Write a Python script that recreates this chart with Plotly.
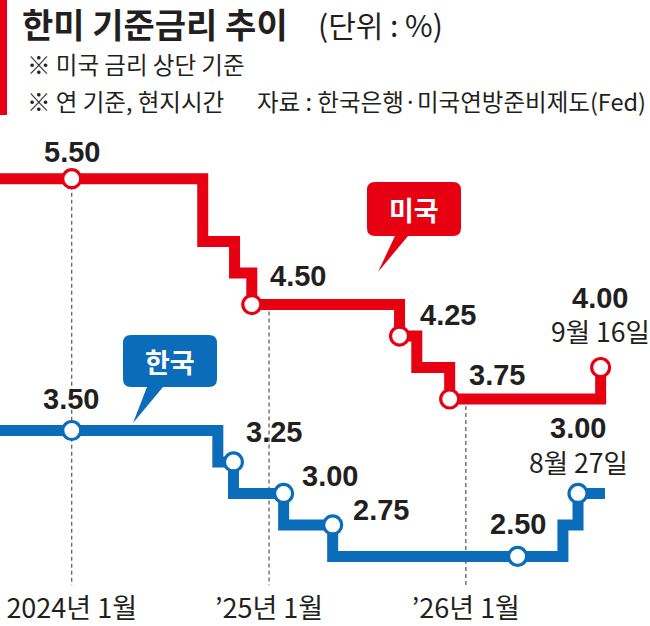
import plotly.graph_objects as go

# ---------------- data ----------------
us_step_dates = ["2023-07-01", "2024-08-31", "2024-10-29", "2024-11-30",
                 "2025-08-31", "2025-10-02", "2025-12-02", "2026-09-08"]
us_step_rates = [5.50, 5.00, 4.75, 4.50, 4.25, 4.00, 3.75, 4.00]

kr_step_dates = ["2023-07-01", "2024-09-28", "2024-10-27", "2025-01-28",
                 "2025-04-29", "2026-06-30", "2026-07-28", "2026-09-16"]
kr_step_rates = [3.50, 3.25, 3.00, 2.75, 2.50, 2.75, 3.00, 3.00]

us_dot_dates = ["2024-01-01", "2024-11-30", "2025-08-31", "2025-12-02", "2026-09-08"]
us_dot_rates = [5.50, 4.50, 4.25, 3.75, 4.00]
us_dot_labels = ["5.50", "4.50", "4.25", "3.75", "4.00"]

kr_dot_dates = ["2024-01-01", "2024-10-27", "2025-01-28", "2025-04-29", "2026-04-07", "2026-07-28"]
kr_dot_rates = [3.50, 3.25, 3.00, 2.75, 2.50, 3.00]
kr_dot_labels = ["3.50", "3.25", "3.00", "2.75", "2.50", "3.00"]

us_last_date_label = "9월 16일"
kr_last_date_label = "8월 27일"

tick_dates = ["2024-01-01", "2025-01-01", "2026-01-01"]
tick_labels = ["2024년 1월", "’25년 1월", "’26년 1월"]
guide_start_rates = [5.50, 4.50, 3.75]

title_text = "한미 기준금리 추이"
unit_text = "(단위 : %)"
note1_text = "※ 미국 금리 상단 기준"
note2_text = "※ 연 기준, 현지시간"
source_text = "자료 : 한국은행·미국연방준비제도(Fed)"
us_name = "미국"
kr_name = "한국"

# ---------------- styles / layout ----------------
RED = "#e60012"
BLUE = "#0b6cb9"
INK = "#231f20"
KFONT = "Noto Sans CJK KR"
NFONT = "Liberation Sans, Arial, sans-serif"

W, H = 650, 626
PLOT_H = 590  # plot area height (bottom margin holds tick labels)

# label offsets (px) relative to each dot: (dx, dy up)
us_label_offsets = [(0, 27), (46, 29), (48, 21), (47, 24), (-1, 70)]
kr_label_offsets = [(-1, 31), (41, 30), (46, 17), (48, 15), (0, 32), (0, 65)]


def px(x):
    return x / W


def py(y):
    return 1 - y / PLOT_H


fig = go.Figure()

# dashed guide lines
shapes = []
for d, r in zip(tick_dates, guide_start_rates):
    shapes.append(dict(type="line", xref="x", yref="y", x0=d, x1=d, y0=r, y1=2.27,
                       line=dict(color="#555555", width=1.2, dash="4px,3px"), layer="below"))

fig.add_trace(go.Scatter(x=us_step_dates, y=us_step_rates, mode="lines",
                         line=dict(color=RED, width=11, shape="hv"), hoverinfo="skip"))
fig.add_trace(go.Scatter(x=kr_step_dates, y=kr_step_rates, mode="lines",
                         line=dict(color=BLUE, width=11, shape="hv"), hoverinfo="skip"))
fig.add_trace(go.Scatter(x=us_dot_dates, y=us_dot_rates, mode="markers",
                         marker=dict(size=18, color="white", line=dict(color=RED, width=3.2))))
fig.add_trace(go.Scatter(x=kr_dot_dates, y=kr_dot_rates, mode="markers",
                         marker=dict(size=18, color="white", line=dict(color=BLUE, width=3.2))))

ann = []
for d, r, t, (dx, dy) in zip(us_dot_dates, us_dot_rates, us_dot_labels, us_label_offsets):
    ann.append(dict(x=d, y=r, xref="x", yref="y", text=f"<b>{t}</b>", showarrow=False,
                    xanchor="center", yanchor="middle",
                    xshift=dx, yshift=dy, font=dict(family=NFONT, size=29, color=INK)))
for d, r, t, (dx, dy) in zip(kr_dot_dates, kr_dot_rates, kr_dot_labels, kr_label_offsets):
    ann.append(dict(x=d, y=r, xref="x", yref="y", text=f"<b>{t}</b>", showarrow=False,
                    xanchor="center", yanchor="middle",
                    xshift=dx, yshift=dy, font=dict(family=NFONT, size=29, color=INK)))
ann.append(dict(x=us_dot_dates[-1], y=us_dot_rates[-1], xref="x", yref="y",
                text=us_last_date_label, showarrow=False, xanchor="center", yanchor="middle",
                xshift=0, yshift=37, font=dict(family=KFONT, size=26.5, color=INK)))
ann.append(dict(x=kr_dot_dates[-1], y=kr_dot_rates[-1], xref="x", yref="y",
                text=kr_last_date_label, showarrow=False, xanchor="center", yanchor="middle",
                xshift=0, yshift=32, font=dict(family=KFONT, size=26.5, color=INK)))

# header
shapes.append(dict(type="rect", xref="paper", yref="paper", x0=px(0), x1=px(7),
                   y0=py(115), y1=py(0), fillcolor=RED, line=dict(width=0)))
ann.append(dict(x=px(21), y=py(23), xref="paper", yref="paper", xanchor="left", yanchor="middle",
                text=f"<b>{title_text}</b>", showarrow=False, borderpad=0,
                font=dict(family=KFONT, size=34, color=INK)))
ann.append(dict(x=px(316), y=py(24), xref="paper", yref="paper", xanchor="left", yanchor="middle",
                text=unit_text, showarrow=False, font=dict(family=KFONT, size=30, color=INK)))
ann.append(dict(x=px(25), y=py(64), xref="paper", yref="paper", xanchor="left", yanchor="middle",
                text=note1_text, showarrow=False, font=dict(family=KFONT, size=23.5, color=INK)))
ann.append(dict(x=px(25), y=py(101), xref="paper", yref="paper", xanchor="left", yanchor="middle",
                text=note2_text, showarrow=False, font=dict(family=KFONT, size=23.5, color=INK)))
ann.append(dict(x=px(648), y=py(101), xref="paper", yref="paper", xanchor="right", yanchor="middle",
                text=source_text, showarrow=False, font=dict(family=KFONT, size=23.5, color=INK)))


def callout(x0, y0, x1, y1, r, bl, br, tip):
    P = lambda x, y: f"{px(x):.5f},{py(y):.5f}"
    return (f"M{P(x0 + r, y0)} L{P(x1 - r, y0)} Q{P(x1, y0)} {P(x1, y0 + r)} "
            f"L{P(x1, y1 - r)} Q{P(x1, y1)} {P(x1 - r, y1)} "
            f"L{P(br, y1)} L{P(tip[0], tip[1])} L{P(bl, y1)} "
            f"L{P(x0 + r, y1)} Q{P(x0, y1)} {P(x0, y1 - r)} "
            f"L{P(x0, y0 + r)} Q{P(x0, y0)} {P(x0 + r, y0)} Z")


shapes.append(dict(type="path", xref="paper", yref="paper",
                   path=callout(367, 182, 461, 236, 8, 395, 408, (378, 272)),
                   fillcolor=RED, line=dict(width=0)))
shapes.append(dict(type="path", xref="paper", yref="paper",
                   path=callout(123, 335, 217, 387, 8, 147, 163, (133, 423)),
                   fillcolor=BLUE, line=dict(width=0)))
ann.append(dict(x=px(414), y=py(209), xref="paper", yref="paper", text=f"<b>{us_name}</b>",
                xanchor="center", yanchor="middle",
                showarrow=False, font=dict(family=KFONT, size=27, color="white")))
ann.append(dict(x=px(170), y=py(361), xref="paper", yref="paper", text=f"<b>{kr_name}</b>",
                xanchor="center", yanchor="middle",
                showarrow=False, font=dict(family=KFONT, size=27, color="white")))

fig.update_layout(
    width=W, height=H,
    margin=dict(l=0, r=0, t=0, b=H - PLOT_H, pad=0),
    paper_bgcolor="white", plot_bgcolor="white",
    showlegend=False,
    shapes=shapes, annotations=ann,
    xaxis=dict(type="date", range=["2023-08-21", "2026-12-08 12:00"],
               tickmode="array", tickvals=tick_dates, ticktext=tick_labels,
               showgrid=False, zeroline=False, showline=False, ticks="",
               tickfont=dict(family=KFONT, size=27, color=INK), automargin=False,
               fixedrange=True),
    yaxis=dict(range=[2.233, 6.919], visible=False, automargin=False, fixedrange=True),
)

fig.write_html("out.html", config={"displayModeBar": False},
               post_script="document.body.style.margin='0';")
